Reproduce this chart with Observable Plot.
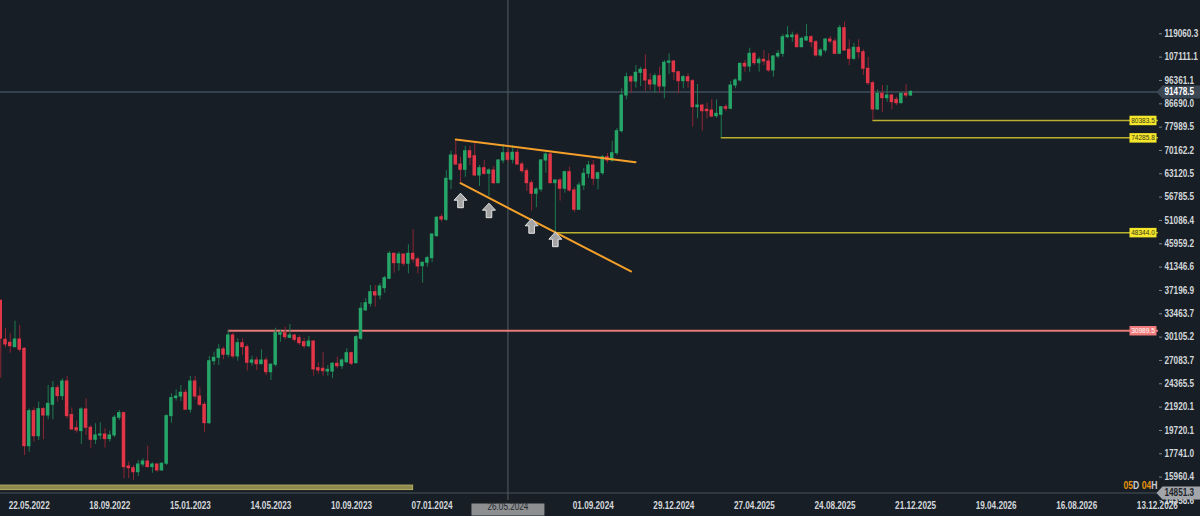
<!DOCTYPE html>
<html><head><meta charset="utf-8">
<script src="https://cdn.jsdelivr.net/npm/d3@7"></script>
<script src="https://cdn.jsdelivr.net/npm/@observablehq/plot@0.6"></script>
<style>
html,body{margin:0;padding:0;background:#171e25;overflow:hidden}
#chart svg{display:block}
</style></head><body><div id="chart"></div>
<script>
// ---- data: weekly candles (Sunday-start weeks) ----
const firstWeek = "2022-05-08";
const open = [
35500,29740,29340,28760,29780,28550,18360,21520,19210,21720,
21100,22150,23890,23040,24620,21150,19920,19660,21690,19960,
18900,19280,19360,18960,19280,20890,21330,16750,16620,16320,
16900,17130,16700,16900,16450,16960,21040,22830,23000,23390,
21660,24620,23000,22150,20380,26990,27410,28460,27790,30330,
27580,29290,28760,26800,27080,26630,27080,25680,26560,30430,
30650,30010,30330,29960,29420,28890,29510,26150,26080,25760,
25760,26680,26390,26870,27990,26750,29880,33970,35020,36910,
36360,37580,39220,43920,42090,43780,41980,43920,42800,41520,
42170,43060,47570,51850,51240,61430,68580,65840,64270,69930,
68360,62640,64740,63120,64070,60490,67040,69300,67250,69430,
65840,63870,60490,57650,58780,67040,68890,60490,61230,58970,
63580,58520,53620,59860,63120,65540,61710,63290,68050,67040,
69300,76570,90010,97800,95910,99770,101140,96350,94620,98240,
93760,104390,105010,100040,96040,97800,96040,85360,86020,84360,
84100,81950,82470,85360,84750,94190,96350,103920,102650,108740,
104200,105820,105010,100820,107420,108740,117240,117240,118150,112040,
115500,117240,114610,107910,110380,116020,114980,108740,122120,110730,
106300,111740,109530,101600,95180,84480,90710,88920,90010,88270,
86930,90710,90010];
const high = [
35600,31350,30560,32360,31730,28720,21750,21850,22420,21880,
24180,24620,24180,24930,25190,21850,20570,21850,22760,20170,
20330,20420,19870,19660,21100,21590,21440,17080,16820,17210,
17340,18360,17030,16960,17000,21170,23290,23710,24180,23710,
25190,25190,23930,22390,27580,28120,29120,28760,30989.5,30650,
29880,29880,29050,27610,27490,28430,27410,26680,31350,31120,
31490,31880,30430,30330,29960,30190,29650,26800,28120,26470,
26800,27490,27290,28560,28120,30330,35170,35820,38040,38040,
38340,39680,44380,44040,44240,43850,45750,48970,43250,42290,
43450,48090,52010,52490,64070,69930,73750,68050,71440,71440,
72640,65540,67040,64570,65240,67350,72090,70380,71760,70380,
66530,64570,61230,59240,67350,69430,69430,61430,61710,63870,
65040,59320,60680,64660,66740,67040,63580,68580,69210,73170,
77510,92790,99590,98560,103120,102330,108250,99320,99320,102330,
105490,108740,105490,100500,98560,99320,96790,94620,86300,86930,
88270,88270,85640,86300,95910,97090,104200,105490,111540,109530,
107080,110380,108740,107910,110380,118680,123070,119930,119380,117240,
124190,118150,115500,111230,116390,117610,116390,123630,125490,115870,
114100,115870,110730,107080,96040,92370,94190,94190,90420,89320,
90960,94620,92070];
const low = [
25000,28680,27990,28680,28120,17600,17870,18700,18840,18900,
20700,20700,22420,22590,20790,19720,19480,18510,19280,18150,
18510,18900,18200,18700,19080,20630,15840,15840,15720,16010,
16700,16650,16250,16320,16400,16820,20380,22520,22490,21590,
21330,22660,21980,19510,20260,26470,26470,27170,27410,27290,
26990,27700,25800,26390,25880,26560,25300,24730,26270,29420,
29740,29880,29420,28990,28560,28680,25220,25420,25220,25220,
24930,26080,26000,26680,26470,26680,29650,33860,34480,34480,
35650,36740,39090,40220,40590,41470,40110,42090,40110,38440,
41330,42170,47350,50690,50920,58780,65500,60490,62160,65540,
62390,59590,62640,56950,60050,60320,66050,66350,66050,65540,
63300,58260,53280,54110,58070,63290,60320,48344.0,55750,57810,
58070,52960,53450,58520,61790,59860,58700,62640,66140,66530,
68580,75960,88270,90710,93040,93760,91660,92080,90960,90960,
88680,99000,96350,90710,92790,93040,77970,80990,76570,80990,
81360,81210,74285.8,83720,84360,92790,95610,100040,100040,103120,
100040,103120,100040,97800,106300,107080,116390,114610,111740,111740,
115150,111740,107080,107080,109230,113780,108250,108400,110030,103120,
105490,106300,98560,94190,80383.5,84100,83450,87320,84360,86020,
86690,88920,89610];
const close = [
29900,29120,28890,29780,28430,18360,21520,19210,21720,21100,
22250,23890,23040,24620,21040,19810,19720,21690,19960,18900,
19280,19360,18960,19280,20890,21330,16700,16620,16320,16900,
17130,16700,16900,16450,16960,21040,22830,23000,23390,21660,
24620,23000,22150,20380,26990,27410,28460,27790,30330,27580,
29290,28760,26800,27080,26630,27080,25680,26560,30650,30650,
30100,30330,29740,29290,28890,29510,26000,25880,25800,25960,
26680,26390,27080,27990,26680,30100,34230,35110,36910,36360,
37870,39320,43920,42090,43780,41980,43920,42800,41470,42170,
43060,47940,51710,51310,61710,68580,65840,64270,69930,67870,
62640,64740,63120,64070,60490,67040,69300,67250,69430,65840,
63870,60490,57650,58780,67040,68890,60490,61230,58970,63580,
58520,53620,59860,63120,65540,61710,63290,68050,67040,69300,
76570,90010,97800,95910,99770,101140,96350,94620,98240,93760,
104390,105010,100040,96040,97800,96040,85360,86020,83830,83830,
81840,82850,85360,84750,94190,96350,103920,102650,108740,104200,
105820,105010,100820,107420,108740,117240,118150,118150,112040,116390,
117240,114610,107910,110380,116020,114980,108740,122120,110380,106300,
111740,109530,101600,95180,84480,90710,88920,90010,87320,86930,
90710,90010,91478.5];

// right price-axis ticks
const yTicks = [119060.3,107111.1,96361.1,86690.0,77989.5,70162.2,63120.5,56785.5,51086.4,45959.2,
  41346.6,37196.9,33463.7,30105.2,27083.7,24365.5,21920.1,19720.1,17741.0,15960.4,14358.6];
// date-axis labels
const xTickLabels = ["22.05.2022","18.09.2022","15.01.2023","14.05.2023","10.09.2023","07.01.2024",
  "01.09.2024","29.12.2024","27.04.2025","24.08.2025","21.12.2025","19.04.2026","16.08.2026","13.12.2026"];

// horizontal levels (start at the candle that defined them)
const levelPrice = [80383.5, 74285.8, 48344.0, 30989.5];
const levelFrom = ["2025-11-16","2025-04-06","2024-08-04","2023-04-09"];
const levelKind = ["support","support","support","resistance"];

// triangle trend lines
const trendUpper = [{date:"2024-03-10", price:73750},{date:"2024-11-30T10:00Z", price:66530}];
const trendLower = [{date:"2024-03-17", price:60490},{date:"2024-11-23T16:00Z", price:40540}];

// arrows marking touches of the lower line
const arrowDates = ["2024-03-17","2024-04-28","2024-06-30","2024-08-04"];
const arrowPrices = [57800, 55250, 51470, 48440];

// bottom zone
const zoneFrom = "2022-01-01", zoneTo = "2024-01-07", zoneLow = 15050, zoneHigh = 15360;

const lastPrice = 91478.5;
const cursorPrice = 14851.3;
const cursorDate = "2024-05-26", cursorLabel = "26.05.2024";
const countdownLabel = "05D 04H";

// ---- build ----
const parse = s => new Date(s.length === 10 ? s + "T00:00:00Z" : s);
const start = parse(firstWeek);
const candles = open.map((o, i) => ({
  date: d3.utcWeek.offset(start, i), open: o, high: high[i], low: low[i], close: close[i],
  up: close[i] >= o
}));
const halfBody = 62; // hours
const GREEN = "#25a567", RED = "#e13548", GREEN_W = "#1d7a50", RED_W = "#8e2535";
const FONT = "'Liberation Sans',Arial,sans-serif";
const NARROW = 0.82; // horizontal squeeze of the UI font

const levels = levelPrice.map((p, i) => ({price: p, from: parse(levelFrom[i]), kind: levelKind[i]}));
const xDomain = [new Date(Date.UTC(2022,4,7,15)), new Date(Date.UTC(2027,0,11,18))];
const trends = [...trendUpper.map(d => ({...d, side:"u"})), ...trendLower.map(d => ({...d, side:"l"}))]
  .map(d => ({...d, date: parse(d.date)}));
const arrows = arrowDates.map((d, i) => ({date: parse(d), price: arrowPrices[i]}));
const xTicks = xTickLabels.map(s => {
  const [dd, mm, yy] = s.split(".").map(Number);
  return {label: s, pos: d3.utcDay.offset(new Date(Date.UTC(yy, mm - 1, dd)), 28)};
});

const boxSymbol = (w, h) => ({draw(c){ c.moveTo(-w/2,-h/2); c.lineTo(w/2,-h/2); c.lineTo(w/2,h/2); c.lineTo(-w/2,h/2); c.closePath(); }});
const tagSymbol = {draw(c){ c.moveTo(-2,0); c.lineTo(4,-6.5); c.lineTo(42,-6.5); c.lineTo(42,6.5); c.lineTo(4,6.5); c.closePath(); }};
const arrowSymbol = {draw(c){ c.moveTo(0,0); c.lineTo(6.5,7); c.lineTo(2.8,7); c.lineTo(2.8,14.5); c.lineTo(-2.8,14.5); c.lineTo(-2.8,7); c.lineTo(-6.5,7); c.closePath(); }};

const plot = Plot.plot({
  width: 1200, height: 516,
  marginTop: 0, marginLeft: 0, marginRight: 42, marginBottom: 16,
  style: {background: "#171e25", color: "#d3d7db", fontFamily: FONT, fontSize: "10px"},
  x: {type: "utc", domain: xDomain, axis: null},
  y: {type: "log", domain: [14355, 138460]},
  marks: [
    // bottom zone
    Plot.rect([0], {x1: () => parse(zoneFrom), x2: () => parse(zoneTo), y1: () => zoneLow, y2: () => zoneHigh,
      fill: "#8f8a4e", stroke: "#b4ad62", strokeWidth: 1}),
    // last price line
    Plot.ruleY([lastPrice], {y: d => d, stroke: "#33424d", strokeWidth: 2}),
    // cursor lines
    Plot.ruleX([cursorDate], {x: d => parse(d), stroke: "#4b535a", strokeWidth: 1.2}),
    Plot.ruleY([cursorPrice], {y: d => d, stroke: "#4b535a", strokeWidth: 1.2}),
    // levels
    Plot.ruleY(levels, {y: "price", x1: "from", x2: () => xDomain[1],
      stroke: d => d.kind === "resistance" ? "#e87a78" : "#b9b12e",
      strokeWidth: d => d.kind === "resistance" ? 2 : 1.5}),
    // wicks
    Plot.ruleX(candles, {x: "date", y1: "low", y2: "high", stroke: d => d.up ? GREEN_W : RED_W, strokeWidth: 1}),
    // bodies
    Plot.rect(candles, {
      x1: d => d3.utcHour.offset(d.date, -halfBody), x2: d => d3.utcHour.offset(d.date, halfBody),
      y1: d => Math.min(d.open, d.close), y2: d => Math.max(d.open, d.close),
      insetTop: -0.5, insetBottom: -0.5,
      fill: d => d.up ? GREEN : RED}),
    // trend lines
    Plot.line(trends, {x: "date", y: "price", z: "side", stroke: "#f5a02a", strokeWidth: 2}),
    // arrows
    Plot.dot(arrows, {x: "date", y: "price", symbol: arrowSymbol, fill: "#a4a4a4", stroke: "#e4e4e4", strokeWidth: 1}),
    // level labels
    Plot.dot(levels, {y: "price", frameAnchor: "right", dx: -15.5, symbol: boxSymbol(27, 9.5),
      fill: d => d.kind === "resistance" ? "#f07c7c" : "#f4e62a", stroke: "none"}),
    Plot.text(levels, {y: "price", frameAnchor: "right", dx: -15.5, textAnchor: "middle", text: d => d.price.toFixed(1),
      fill: d => d.kind === "resistance" ? "#ffffff" : "#3a3a1a", fontSize: 8}),
    // price axis
    Plot.axisY({anchor: "right", ticks: yTicks, tickFormat: d => d.toFixed(1), tickSize: 3, tickPadding: 3,
      fontSize: 10, fontWeight: "bold", stroke: "#7f868c"}),
    // last price tag
    Plot.dot([lastPrice], {y: d => d, frameAnchor: "right", symbol: tagSymbol, fill: "#3b4854", stroke: "none"}),
    Plot.text([lastPrice], {y: d => d, frameAnchor: "right", dx: 6, textAnchor: "start", text: d => d.toFixed(1),
      fill: "#ffffff", fontWeight: "bold", fontSize: 10}),
    // cursor price tag
    Plot.dot([cursorPrice], {y: d => d, frameAnchor: "right", symbol: tagSymbol, fill: "#a2a6aa", stroke: "none"}),
    Plot.text([cursorPrice], {y: d => d, frameAnchor: "right", dx: 6, textAnchor: "start", text: d => d.toFixed(1),
      fill: "#1e252b", fontWeight: "bold", fontSize: 10}),
    // countdown
    Plot.text([countdownLabel], {frameAnchor: "bottom-right", dx: -1, dy: -12, textAnchor: "end", text: d => d,
      fill: "#e8920c", fontWeight: "bold", fontSize: 10.5}),
    // date axis labels
    Plot.text(xTicks, {x: "pos", text: "label", frameAnchor: "bottom", dy: 8, fill: "#d3d7db", fontWeight: "bold", fontSize: 10}),
    // cursor date tag
    Plot.dot([cursorDate], {x: d => parse(d), frameAnchor: "bottom", dy: 9, symbol: boxSymbol(73, 12), fill: "#8d8f91", stroke: "none"}),
    Plot.text([cursorLabel], {x: () => parse(cursorDate), frameAnchor: "bottom", dy: 9, textAnchor: "middle", text: d => d, fill: "#25292d", fontSize: 10})
  ]
});
document.getElementById("chart").appendChild(plot);

// narrow UI font: squeeze each label horizontally around its own anchor point
const firstLen = list => (list && list.numberOfItems > 0) ? list.getItem(0).value : 0;
plot.querySelectorAll("text").forEach(t => {
  let ax = 0, ay = 0;
  try { ax = firstLen(t.x.baseVal); ay = firstLen(t.y.baseVal); } catch (e) { ax = 0; ay = 0; }
  if (!isFinite(ax)) ax = 0;
  if (!isFinite(ay)) ay = 0;
  const tr = t.getAttribute("transform") || "";
  t.setAttribute("transform", `${tr} translate(${ax},${ay}) scale(${NARROW},1) translate(${-ax},${-ay})`.trim());
});
// colour the unit letters of the countdown
plot.querySelectorAll("text").forEach(t => {
  if (t.textContent === countdownLabel) {
    t.textContent = "";
    countdownLabel.split(/(\d+)/).filter(s => s).forEach(part => {
      const ts = document.createElementNS("http://www.w3.org/2000/svg", "tspan");
      ts.textContent = part;
      if (!/\d/.test(part)) ts.setAttribute("fill", "#c9cdd1");
      t.appendChild(ts);
    });
  }
});
</script>
</body></html>
